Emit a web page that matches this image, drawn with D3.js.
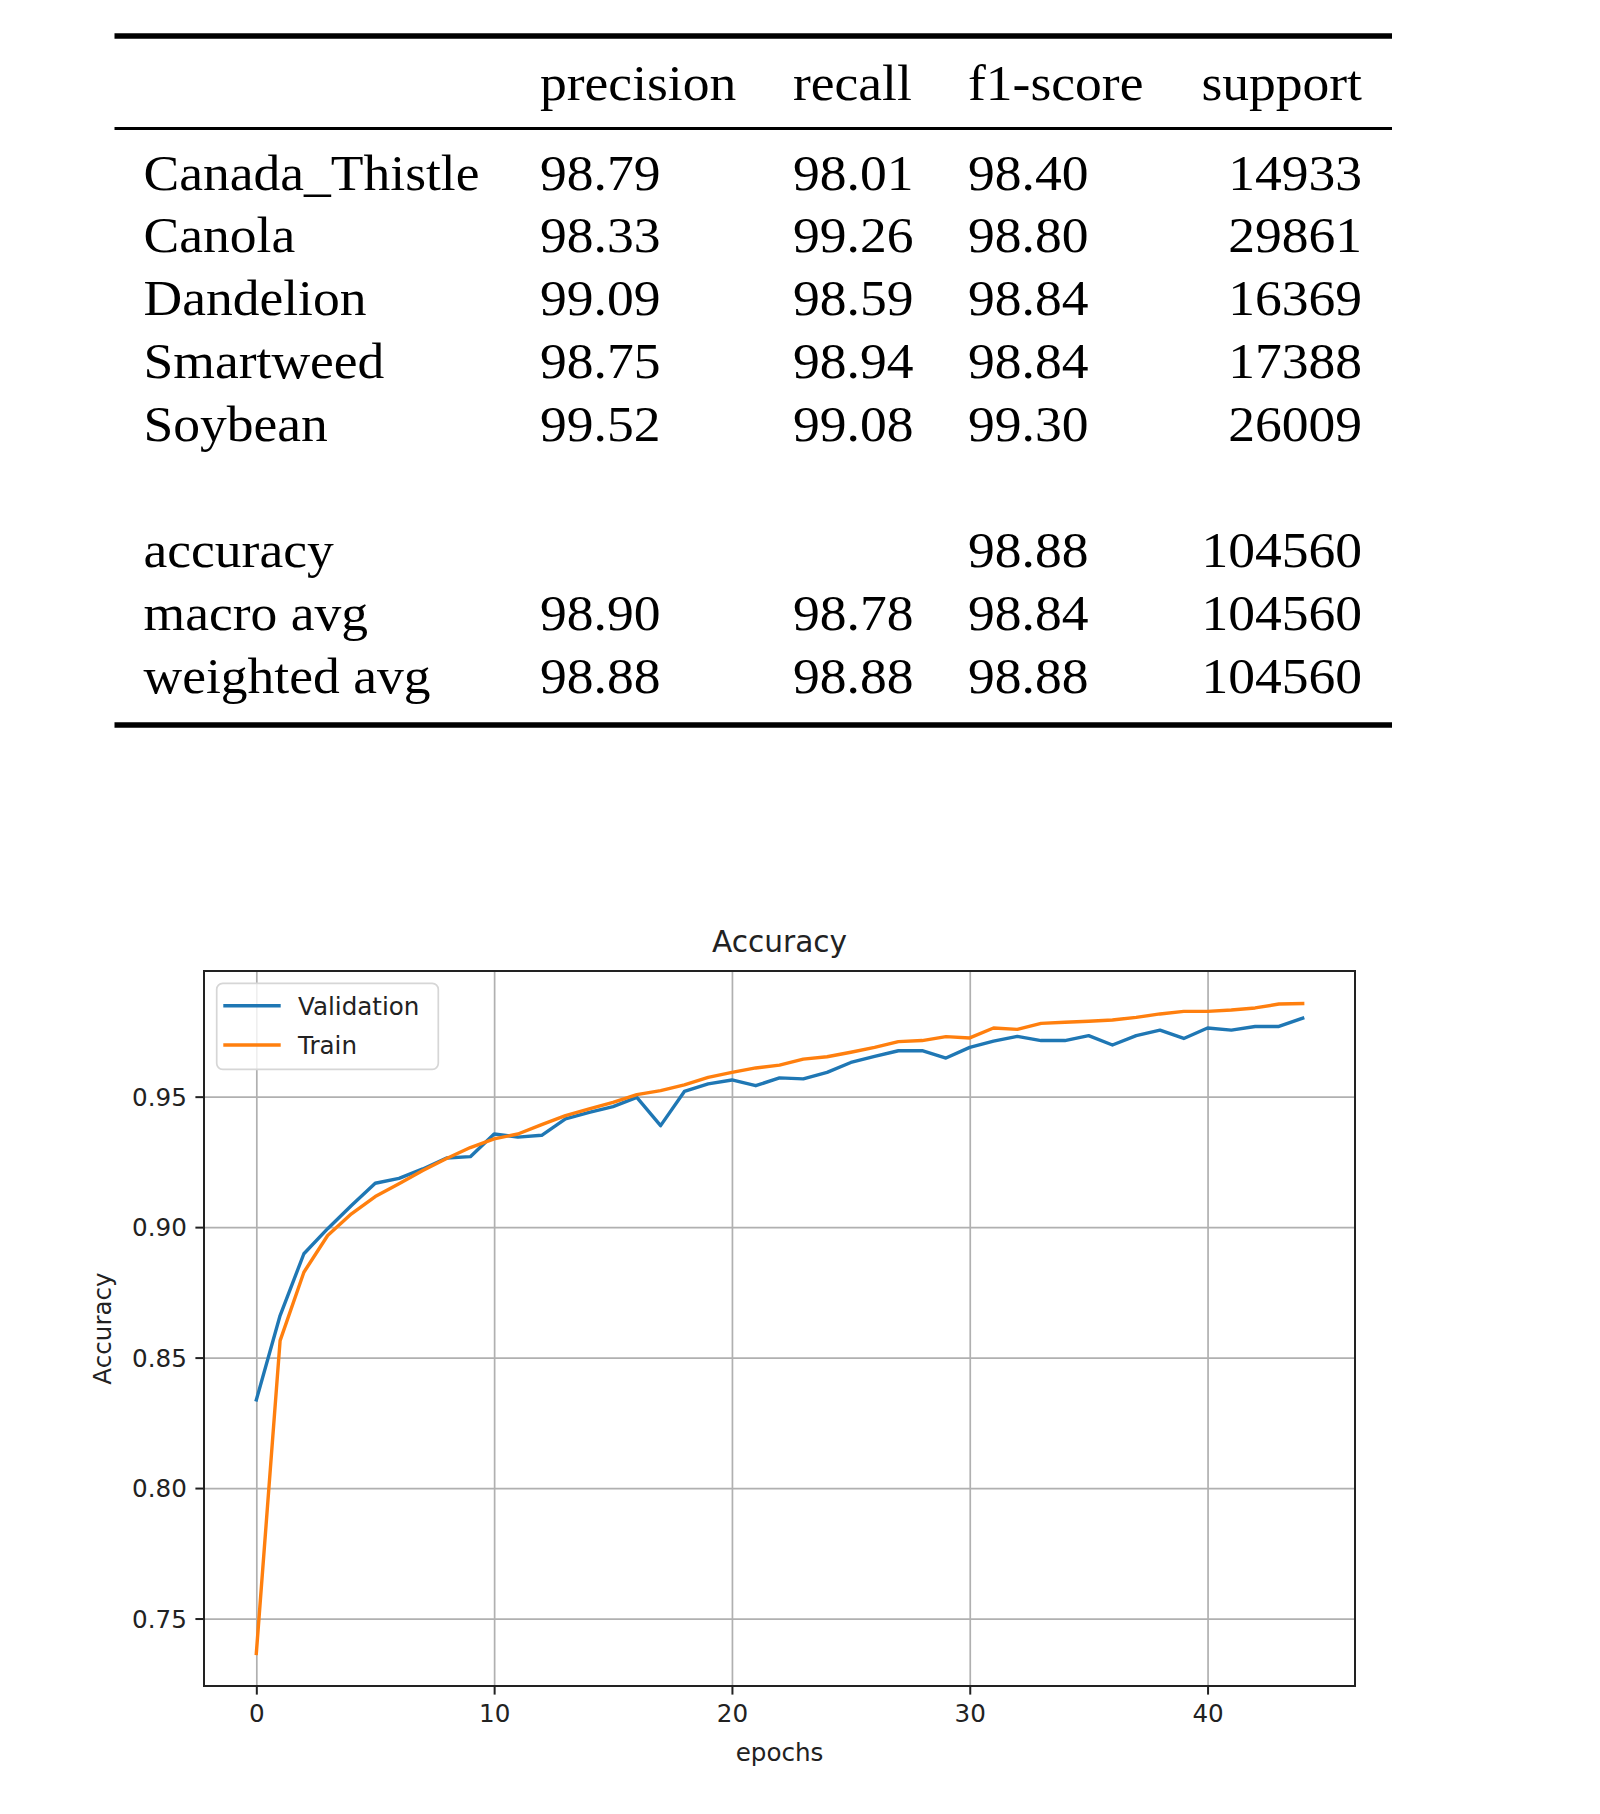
<!DOCTYPE html>
<html>
<head>
<meta charset="utf-8">
<script src="https://cdn.jsdelivr.net/npm/d3@7"></script>
<style>
  html, body { margin: 0; padding: 0; background: #ffffff; }
  svg { display: block; }
</style>
</head>
<body>
<svg id="fig" width="1600" height="1814"></svg>
<script>
// ---------------- Table data ----------------
const headers = ["precision", "recall", "f1-score", "support"];
const classNames = ["Canada_Thistle", "Canola", "Dandelion", "Smartweed", "Soybean"];
const classPrecision = [98.79, 98.33, 99.09, 98.75, 99.52];
const classRecall = [98.01, 99.26, 98.59, 98.94, 99.08];
const classF1 = [98.40, 98.80, 98.84, 98.84, 99.30];
const classSupport = [14933, 29861, 16369, 17388, 26009];
const summaryNames = ["accuracy", "macro avg", "weighted avg"];
const summaryPrecision = [null, 98.90, 98.88];
const summaryRecall = [null, 98.78, 98.88];
const summaryF1 = [98.88, 98.84, 98.88];
const summarySupport = [104560, 104560, 104560];

// ---------------- Chart data ----------------
const chartTitle = "Accuracy";
const xLabel = "epochs";
const yLabel = "Accuracy";
const epochs = [0,1,2,3,4,5,6,7,8,9,10,11,12,13,14,15,16,17,18,19,20,21,22,23,24,25,26,27,28,29,30,31,32,33,34,35,36,37,38,39,40,41,42,43,44];
const validationAcc = [0.8338,0.8661,0.8898,0.8994,0.9083,0.9168,0.9187,0.9223,0.9265,0.9270,
  0.9357,0.9345,0.9352,0.9415,0.9440,0.9462,0.9497,0.9389,0.9520,0.9549,
  0.9564,0.9542,0.9572,0.9568,0.9593,0.9631,0.9654,0.9676,0.9676,0.9648,
  0.9689,0.9713,0.9731,0.9715,0.9715,0.9734,0.9698,0.9734,0.9755,0.9723,
  0.9763,0.9755,0.9769,0.9769,0.9801];
const trainAcc = [0.7366,0.8565,0.8827,0.8968,0.9051,0.9117,0.9166,0.9217,0.9263,0.9305,
  0.9338,0.9357,0.9393,0.9427,0.9453,0.9478,0.9508,0.9523,0.9545,0.9574,
  0.9593,0.9610,0.9621,0.9644,0.9653,0.9670,0.9689,0.9711,0.9715,0.9730,
  0.9725,0.9763,0.9758,0.9781,0.9785,0.9789,0.9794,0.9804,0.9817,0.9827,
  0.9827,0.9832,0.9840,0.9855,0.9857];
const seriesNames = ["Validation", "Train"];
const seriesColors = ["#1f77b4", "#ff7f0e"];
const xTicks = [0, 10, 20, 30, 40];
const yTicks = [0.75, 0.80, 0.85, 0.90, 0.95];

const svg = d3.select("#fig");

// ================= TABLE =================
const serif = "'Liberation Serif', 'Times New Roman', serif";
const tFont = 51, tStretch = 1.05;
const ruleX0 = 114.5, ruleX1 = 1392;
const colX = { label: 143.5, p: 540, r: 793, f: 968, s: 1362 };
const headerY = 99.5;
const rowY = d3.scaleLinear().domain([0, 8]).range([189.5, 693.3]);

const table = svg.append("g").attr("class", "table");
function tText(x, y, str, anchor) {
  table.append("text")
    .attr("transform", `translate(${x},${y}) scale(${tStretch},1)`)
    .attr("text-anchor", anchor || "start")
    .attr("font-family", serif)
    .attr("font-size", tFont)
    .attr("fill", "#000")
    .text(str);
}
// rules
table.append("line").attr("x1", ruleX0).attr("x2", ruleX1).attr("y1", 36).attr("y2", 36)
  .attr("stroke", "#000").attr("stroke-width", 5.5);
table.append("line").attr("x1", ruleX0).attr("x2", ruleX1).attr("y1", 128.5).attr("y2", 128.5)
  .attr("stroke", "#000").attr("stroke-width", 3.2);
table.append("line").attr("x1", ruleX0).attr("x2", ruleX1).attr("y1", 725).attr("y2", 725)
  .attr("stroke", "#000").attr("stroke-width", 5.5);

// header
tText(colX.p, headerY, headers[0]);
tText(colX.r, headerY, headers[1]);
tText(colX.f, headerY, headers[2]);
tText(colX.s, headerY, headers[3], "end");

const fmt = v => v == null ? "" : v.toFixed(2);
classNames.forEach((name, i) => {
  const y = rowY(i);
  tText(colX.label, y, name);
  tText(colX.p, y, fmt(classPrecision[i]));
  tText(colX.r, y, fmt(classRecall[i]));
  tText(colX.f, y, fmt(classF1[i]));
  tText(colX.s, y, String(classSupport[i]), "end");
});
summaryNames.forEach((name, i) => {
  const y = rowY(i + 6);
  tText(colX.label, y, name);
  if (summaryPrecision[i] != null) tText(colX.p, y, fmt(summaryPrecision[i]));
  if (summaryRecall[i] != null) tText(colX.r, y, fmt(summaryRecall[i]));
  tText(colX.f, y, fmt(summaryF1[i]));
  tText(colX.s, y, String(summarySupport[i]), "end");
});

// ================= CHART =================
const sans = "'DejaVu Sans', sans-serif";
const plot = { left: 204, right: 1355, top: 971, bottom: 1686 };
const fs = 24.6;
const tickLen = 8.6, tickPad = 8.6;

const allVals = validationAcc.concat(trainAcc);
const yMin = d3.min(allVals), yMax = d3.max(allVals);
const yMarg = (yMax - yMin) * 0.05;
const xMin = d3.min(epochs), xMax = d3.max(epochs);
const xMarg = (xMax - xMin) * 0.05;

const x = d3.scaleLinear().domain([xMin - xMarg, xMax + xMarg]).range([plot.left, plot.right]);
const y = d3.scaleLinear().domain([yMin - yMarg, yMax + yMarg]).range([plot.bottom, plot.top]);

const chart = svg.append("g").attr("class", "chart");

// grid
const grid = chart.append("g").attr("class", "grid");
grid.append("g")
  .attr("transform", `translate(0,${plot.bottom})`)
  .call(d3.axisBottom(x).tickValues(xTicks).tickSize(-(plot.bottom - plot.top)).tickFormat(""))
  .call(g => g.select(".domain").remove())
  .call(g => g.selectAll("line").attr("stroke", "#b0b0b0").attr("stroke-width", 1.7));
grid.append("g")
  .attr("transform", `translate(${plot.left},0)`)
  .call(d3.axisLeft(y).tickValues(yTicks).tickSize(-(plot.right - plot.left)).tickFormat(""))
  .call(g => g.select(".domain").remove())
  .call(g => g.selectAll("line").attr("stroke", "#b0b0b0").attr("stroke-width", 1.7));

// lines
const line = d3.line().x((d, i) => x(epochs[i])).y(d => y(d));
[validationAcc, trainAcc].forEach((vals, k) => {
  chart.append("path")
    .datum(vals)
    .attr("d", line)
    .attr("fill", "none")
    .attr("stroke", seriesColors[k])
    .attr("stroke-width", 3.4)
    .attr("stroke-linejoin", "round")
    .attr("stroke-linecap", "square");
});

// axes
const xAxis = chart.append("g")
  .attr("transform", `translate(0,${plot.bottom})`)
  .call(d3.axisBottom(x).tickValues(xTicks).tickSize(tickLen).tickPadding(tickPad).tickFormat(d3.format("d")));
const yAxis = chart.append("g")
  .attr("transform", `translate(${plot.left},0)`)
  .call(d3.axisLeft(y).tickValues(yTicks).tickSize(tickLen).tickPadding(tickPad).tickFormat(d3.format(".2f")));
[xAxis, yAxis].forEach(a => {
  a.select(".domain").remove();
  a.selectAll("line").attr("stroke", "#222").attr("stroke-width", 2);
  a.selectAll("text").attr("font-family", sans).attr("font-size", fs).attr("fill", "#222");
});
yAxis.selectAll("text").attr("dy", "0.35em");
xAxis.selectAll("text").attr("dy", "0.76em");

// frame
chart.append("rect")
  .attr("x", plot.left).attr("y", plot.top)
  .attr("width", plot.right - plot.left).attr("height", plot.bottom - plot.top)
  .attr("fill", "none").attr("stroke", "#222").attr("stroke-width", 2);

// title & labels
chart.append("text")
  .attr("x", (plot.left + plot.right) / 2).attr("y", 952)
  .attr("text-anchor", "middle").attr("font-family", sans).attr("font-size", 29.6).attr("fill", "#222")
  .text(chartTitle);
chart.append("text")
  .attr("x", (plot.left + plot.right) / 2).attr("y", 1761)
  .attr("text-anchor", "middle").attr("font-family", sans).attr("font-size", fs).attr("fill", "#222")
  .text(xLabel);
chart.append("text")
  .attr("transform", `translate(111,${(plot.top + plot.bottom) / 2}) rotate(-90)`)
  .attr("text-anchor", "middle").attr("font-family", sans).attr("font-size", fs).attr("fill", "#222")
  .text(yLabel);

// legend
const leg = chart.append("g").attr("class", "legend");
leg.append("rect")
  .attr("x", 216.7).attr("y", 983.3).attr("width", 221.6).attr("height", 86)
  .attr("rx", 6).attr("ry", 6)
  .attr("fill", "#ffffff").attr("fill-opacity", 0.8)
  .attr("stroke", "#d6d6d6").attr("stroke-width", 1.7);
const legY = [1005.7, 1045];
seriesNames.forEach((name, k) => {
  leg.append("line")
    .attr("x1", 225).attr("x2", 279).attr("y1", legY[k]).attr("y2", legY[k])
    .attr("stroke", seriesColors[k]).attr("stroke-width", 3.4).attr("stroke-linecap", "square");
  leg.append("text")
    .attr("x", 298).attr("y", legY[k]).attr("dy", "0.36em")
    .attr("font-family", sans).attr("font-size", fs).attr("fill", "#222")
    .text(name);
});
</script>
</body>
</html>
